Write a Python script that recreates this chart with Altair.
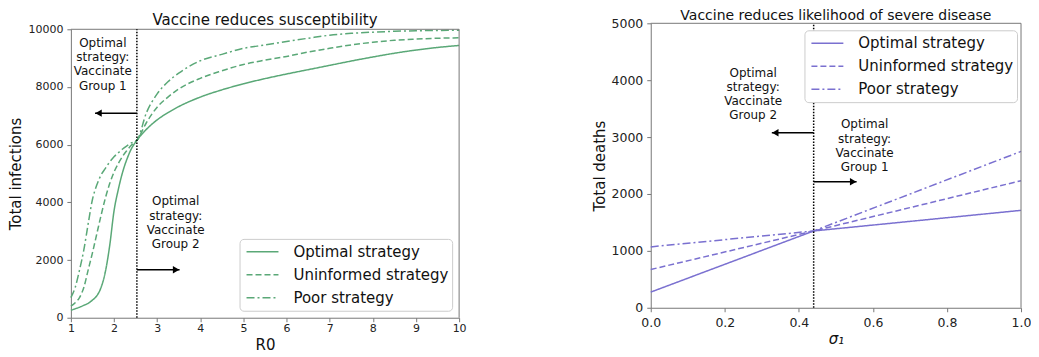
import altair as alt
import pandas as pd

GREEN = "#5aa877"
PURPLE = "#7a70d0"
FONT = "DejaVu Sans"
INK = "#111111"
FRAME = "#777777"

strategies = ["Optimal strategy", "Uninformed strategy", "Poor strategy"]

# ---- left panel: vaccine reduces susceptibility ----
r0 = [1.0, 1.1, 1.2, 1.3, 1.4, 1.5, 1.6, 1.7, 1.8, 1.9, 2.0, 2.1, 2.2, 2.3, 2.4, 2.53,
      2.75, 3.0, 3.25, 3.5, 4.0, 4.5, 5.0, 5.5, 6.0, 6.5, 7.0, 7.5, 8.0, 8.5, 9.0, 9.5, 10.0]
inf_optimal = [260, 310, 365, 430, 500, 610, 760, 1050, 1600, 2500, 3700, 4450, 5050, 5500, 5850, 6150,
               6530, 6860, 7110, 7320, 7650, 7900, 8110, 8290, 8450, 8600, 8750, 8900, 9040, 9170, 9280, 9370, 9440]
inf_uninformed = [400, 520, 700, 1050, 1650, 2250, 2900, 3550, 4150, 4650, 5050, 5350, 5600, 5800, 5980, 6150,
                  6760, 7300, 7650, 7930, 8300, 8560, 8780, 8930, 9060, 9210, 9340, 9460, 9550, 9620, 9660, 9690, 9705]
inf_poor = [700, 1050, 1650, 2350, 3250, 4100, 4600, 4950, 5180, 5400, 5580, 5720, 5850, 5960, 6060, 6150,
            7100, 7760, 8180, 8480, 8910, 9130, 9340, 9455, 9580, 9690, 9795, 9860, 9900, 9930, 9950, 9960, 9965]
r0_ticks = [1, 2, 3, 4, 5, 6, 7, 8, 9, 10]
inf_ticks = [0, 2000, 4000, 6000, 8000, 10000]
r0_threshold = 2.53
ann_left_x = [1.74, 3.43]
ann_left_y = [9530, 4030]
ann_left_text = ["Optimal\nstrategy:\nVaccinate\nGroup 1", "Optimal\nstrategy:\nVaccinate\nGroup 2"]
arrow_left_y = [7093, 1661]
arrow_left_tip = [1.56, 3.52]
arrow_left_dir = ["left", "right"]

# ---- right panel: vaccine reduces likelihood of severe disease ----
sigma = [0.0, 0.44, 1.0]
deaths_optimal = [275, 1350, 1712]
deaths_uninformed = [672, 1350, 2233]
deaths_poor = [1070, 1350, 2748]
sigma_ticks = [0.0, 0.2, 0.4, 0.6, 0.8, 1.0]
death_ticks = [0, 1000, 2000, 3000, 4000, 5000]
sigma_threshold = 0.44
ann_right_x = [0.2766, 0.5776]
ann_right_y = [4135, 3225]
ann_right_text = ["Optimal\nstrategy:\nVaccinate\nGroup 2", "Optimal\nstrategy:\nVaccinate\nGroup 1"]
arrow_right_y = [3075, 2216]
arrow_right_tip = [0.327, 0.556]
arrow_right_dir = ["left", "right"]


def long_df(x, series, xname, yname):
    rows = []
    for name, vals in zip(strategies, series):
        for xv, yv in zip(x, vals):
            rows.append({xname: xv, yname: yv, "strategy": name})
    return pd.DataFrame(rows)


dash_scale = alt.Scale(domain=strategies, range=[[1, 0], [6, 3], [8, 3, 2, 3]])


def make_legend(lx, ly, color):
    return alt.Legend(
        title=None, orient="none", legendX=lx, legendY=ly,
        symbolType="stroke", symbolSize=1024, symbolStrokeWidth=1.5,
        symbolStrokeColor=color, clipHeight=20, rowPadding=3, padding=3,
        symbolOffset=3, labelOffset=14, labelFont=FONT, labelFontSize=15,
        labelColor=INK, labelLimit=400, fillColor="white",
        strokeColor="#cccccc", cornerRadius=4,
    )


def panel(df, xname, yname, xdom, ydom, xticks, yticks, xtitle, ytitle, xfmt,
          color, interp, legend, threshold, ann, arrows, title, title_offset, title_size,
          label_size, xlabel_pad, xtitle_pad, xtitle_style, w, h, top_gap):
    xscale = alt.Scale(domain=xdom, nice=False, zero=False)
    yscale = alt.Scale(domain=ydom, nice=False, range=[h, top_gap])
    xaxis = alt.Axis(values=xticks, format=xfmt, title=xtitle, labelFontSize=label_size,
                     titleFontSize=15, labelPadding=xlabel_pad, titlePadding=xtitle_pad,
                     titleFontStyle=xtitle_style, labelFlush=False)
    yaxis = alt.Axis(values=yticks, format="d", title=ytitle, labelFontSize=label_size,
                     titleFontSize=15, labelPadding=4, titlePadding=4)
    lines = alt.Chart(df).mark_line(color=color, strokeWidth=1.5, interpolate=interp).encode(
        x=alt.X(f"{xname}:Q", scale=xscale, axis=xaxis),
        y=alt.Y(f"{yname}:Q", scale=yscale, axis=yaxis),
        strokeDash=alt.StrokeDash("strategy:N", scale=dash_scale, sort=strategies, legend=legend),
        detail="strategy:N",
    )
    # top and right edges of the frame
    frame_top = alt.Chart().mark_rule(color=FRAME, strokeWidth=1).encode(
        x=alt.datum(xdom[0], scale=xscale), x2=alt.datum(xdom[1]),
        y=alt.datum(ydom[1], scale=yscale))
    frame_right = alt.Chart().mark_rule(color=FRAME, strokeWidth=1).encode(
        x=alt.datum(xdom[1], scale=xscale),
        y=alt.datum(ydom[0], scale=yscale), y2=alt.datum(ydom[1]))
    vline = alt.Chart(pd.DataFrame({"t": [threshold]})).mark_rule(
        color="black", strokeDash=[1.5, 1.5], strokeWidth=1.5
    ).encode(x=alt.X("t:Q", scale=xscale),
             y=alt.datum(ydom[0], scale=yscale), y2=alt.datum(ydom[1]))
    ann_df = pd.DataFrame({"ax": ann[0], "ay": ann[1], "txt": ann[2]})
    texts = alt.Chart(ann_df).mark_text(
        font=FONT, fontSize=12, lineHeight=14.3, lineBreak="\n", align="center",
        baseline="middle", color=INK
    ).encode(x=alt.X("ax:Q", scale=xscale), y=alt.Y("ay:Q", scale=yscale), text="txt:N")
    arr_df = pd.DataFrame({"x0": [threshold] * len(arrows[0]), "x1": arrows[1],
                           "y": arrows[0], "dir": arrows[2]})
    shafts = alt.Chart(arr_df).mark_rule(color="black", strokeWidth=1.5).encode(
        x=alt.X("x0:Q", scale=xscale), x2="x1:Q", y=alt.Y("y:Q", scale=yscale))
    head_l = alt.Chart(arr_df).transform_filter(alt.datum.dir == "left").mark_point(
        shape="triangle-left", filled=True, size=55, color="black", opacity=1, xOffset=3.5
    ).encode(x=alt.X("x1:Q", scale=xscale), y=alt.Y("y:Q", scale=yscale))
    head_r = alt.Chart(arr_df).transform_filter(alt.datum.dir == "right").mark_point(
        shape="triangle-right", filled=True, size=55, color="black", opacity=1, xOffset=-3.5
    ).encode(x=alt.X("x1:Q", scale=xscale), y=alt.Y("y:Q", scale=yscale))
    return alt.layer(lines, frame_top, frame_right, vline, shafts, head_l, head_r, texts).properties(
        width=w, height=h,
        title=alt.TitleParams(title, fontSize=title_size, font=FONT, fontWeight="normal",
                              color=INK, offset=title_offset),
    )


df_left = long_df(r0, [inf_optimal, inf_uninformed, inf_poor], "R0", "infections")
df_right = long_df(sigma, [deaths_optimal, deaths_uninformed, deaths_poor], "sigma", "deaths")

left = panel(
    df_left, "R0", "infections", [1, 10], [0, 10000], r0_ticks, inf_ticks, "R0",
    "Total infections", "d", GREEN, "monotone", make_legend(169, 216, GREEN), r0_threshold,
    (ann_left_x, ann_left_y, ann_left_text), (arrow_left_y, arrow_left_tip, arrow_left_dir),
    "Vaccine reduces susceptibility", -5, 15, 11, 1, 4, "normal", 389, 295, 6,
)
right = panel(
    df_right, "sigma", "deaths", [0, 1], [0, 5000], sigma_ticks, death_ticks, "σ₁",
    "Total deaths", ".1f", PURPLE, "linear", make_legend(154, 7, PURPLE), sigma_threshold,
    (ann_right_x, ann_right_y, ann_right_text), (arrow_right_y, arrow_right_tip, arrow_right_dir),
    "Vaccine reduces likelihood of severe disease", -5.5, 14, 12.5, 5, 2, "italic", 371, 285, 0,
)

chart = alt.hconcat(left, right, spacing=126).resolve_scale(
    strokeDash="independent"
).configure(
    padding={"left": 1, "top": 0, "right": 0, "bottom": 0}
).configure_view(stroke="transparent", strokeWidth=0).configure_axis(
    grid=False, domainColor=FRAME, tickColor=FRAME, tickSize=4, labelColor="#222222",
    titleColor=INK, labelFont=FONT, titleFont=FONT, titleFontWeight="normal",
)

chart.save("out.html", embed_options={"renderer": "svg", "actions": False})
